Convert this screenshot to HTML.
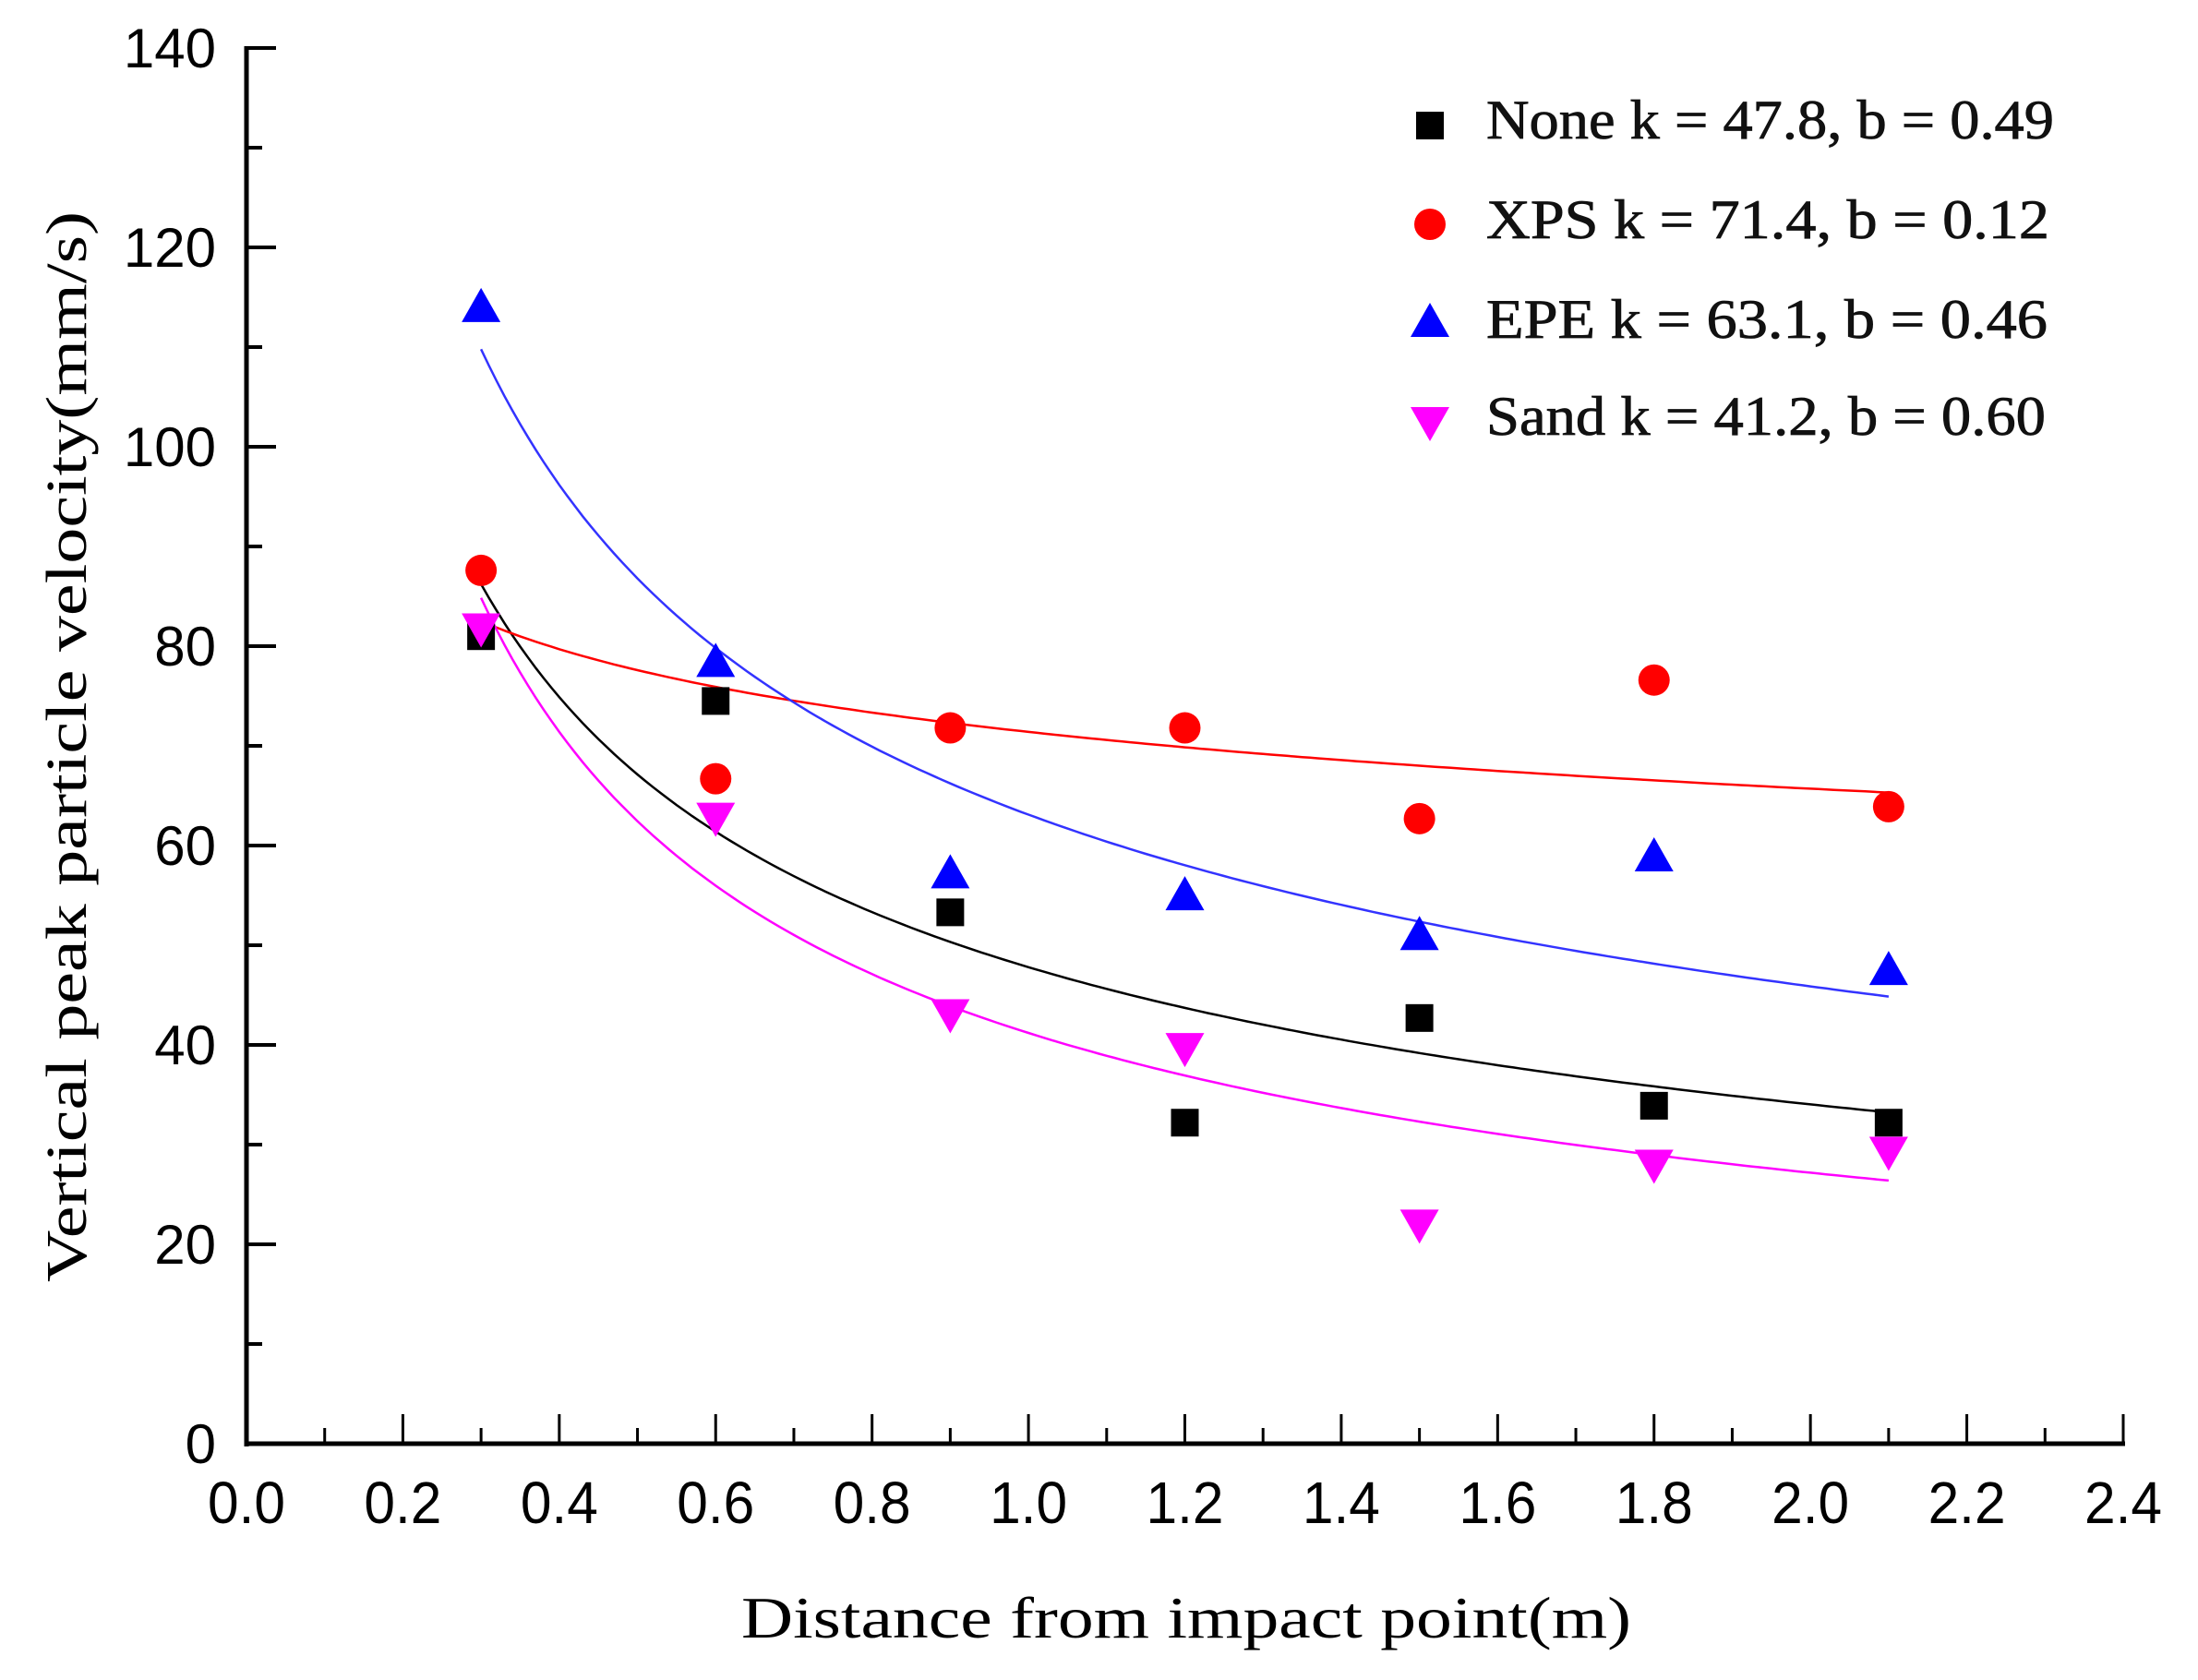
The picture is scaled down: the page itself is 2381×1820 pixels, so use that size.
<!DOCTYPE html>
<html><head><meta charset="utf-8"><style>
html,body{margin:0;padding:0;background:#fff;}
svg{display:block;}
</style></head><body>
<svg id="s" width="2381" height="1820" xmlns="http://www.w3.org/2000/svg">
<rect width="2381" height="1820" fill="#fff"/>
<g id="g"></g>
<text x="73" y="809" transform="rotate(-90 73 809)" text-anchor="middle" font-family="Liberation Serif, serif" font-size="62" fill="#000" textLength="1160" lengthAdjust="spacingAndGlyphs" dy="20">Vertical peak particle velocity(mm/s)</text>
<text x="1285" y="1774" text-anchor="middle" font-family="Liberation Serif, serif" font-size="64" fill="#000" textLength="964" lengthAdjust="spacingAndGlyphs">Distance from impact point(m)</text>
<g font-family="Liberation Serif, serif" font-size="60" fill="#111" stroke="#111" stroke-width="0.8">
<text x="1610" y="150" textLength="615" lengthAdjust="spacingAndGlyphs">None k = 47.8, b = 0.49</text>
<text x="1610" y="258" textLength="610" lengthAdjust="spacingAndGlyphs">XPS  k = 71.4, b = 0.12</text>
<text x="1610" y="366" textLength="608" lengthAdjust="spacingAndGlyphs">EPE  k = 63.1, b = 0.46</text>
<text x="1610" y="471" textLength="606" lengthAdjust="spacingAndGlyphs">Sand k = 41.2, b = 0.60</text>
</g>
</svg>
<script>
var g=document.getElementById('g');
var X0=267,XS=(2300-267)/2.4,Y0=1564,YS=(1564-52)/140;
function px(x){return X0+x*XS;} function py(y){return Y0-y*YS;}
var h='';
h+='<line x1="'+X0+'" y1="'+(Y0+3)+'" x2="'+X0+'" y2="50" stroke="#000" stroke-width="5"/>';
h+='<line x1="'+(X0-2)+'" y1="'+Y0+'" x2="2302" y2="'+Y0+'" stroke="#000" stroke-width="5"/>';
for(var i=0;i<=24;i++){var x=px(i*0.1),L=(i%2==0)?32:17;
 h+='<line x1="'+x+'" y1="'+Y0+'" x2="'+x+'" y2="'+(Y0-L)+'" stroke="#000" stroke-width="3"/>';
 if(i%2==0)h+='<text x="'+x+'" y="'+(Y0+86)+'" text-anchor="middle" font-family="Liberation Sans, sans-serif" font-size="64" textLength="84" lengthAdjust="spacingAndGlyphs">'+(i/10).toFixed(1)+'</text>';}
for(var j=0;j<=14;j++){var y=py(j*10),L=(j%2==0)?32:17;
 h+='<line x1="'+X0+'" y1="'+y+'" x2="'+(X0+L)+'" y2="'+y+'" stroke="#000" stroke-width="4"/>';
 if(j%2==0)h+='<text x="234" y="'+(y+21)+'" text-anchor="end" font-family="Liberation Sans, sans-serif" font-size="60">'+(j*10)+'</text>';}
var S=[{c:'#000',lc:'#000',k:47.8,b:0.49,m:'sq',d:[81,74.5,53.3,32.2,42.7,33.9,32.2]},
{c:'#f00',lc:'#f00',k:71.4,b:0.12,m:'ci',d:[87.6,66.7,71.8,71.8,62.7,76.6,63.9]},
{c:'#00f',lc:'#33f',k:63.1,b:0.46,m:'up',d:[113.9,78.3,57.1,54.9,50.9,58.8,47.4]},
{c:'#f0f',lc:'#f0f',k:41.2,b:0.60,m:'dn',d:[81.9,62.9,43.2,39.8,22.1,28.1,29.4]}];
function mk(m,x,y,c){
 if(m=='sq')return '<rect x="'+(x-15)+'" y="'+(y-15)+'" width="30" height="30" fill="'+c+'"/>';
 if(m=='ci')return '<circle cx="'+x+'" cy="'+y+'" r="17" fill="'+c+'"/>';
 if(m=='up')return '<polygon points="'+(x-21)+','+(y+15)+' '+(x+21)+','+(y+15)+' '+x+','+(y-22)+'" fill="'+c+'"/>';
 return '<polygon points="'+(x-21)+','+(y-15)+' '+(x+21)+','+(y-15)+' '+x+','+(y+22)+'" fill="'+c+'"/>';}
var pts='';
S.forEach(function(s){var p='';for(var x=0.3;x<=2.1001;x+=0.01){p+=(p?' L':'M')+px(x).toFixed(1)+','+py(s.k*Math.pow(x,-s.b)).toFixed(1);}
 h+='<path d="'+p+'" fill="none" stroke="'+s.lc+'" stroke-width="2.5"/>';
 s.d.forEach(function(v,i){pts+=mk(s.m,px(0.3+0.3*i),py(v),s.c);});});
h+=pts;
var ly=[136,243,350,456];
S.forEach(function(s,i){h+=mk(s.m,1549,ly[i],s.c);});
g.innerHTML=h;
</script>
</body></html>
